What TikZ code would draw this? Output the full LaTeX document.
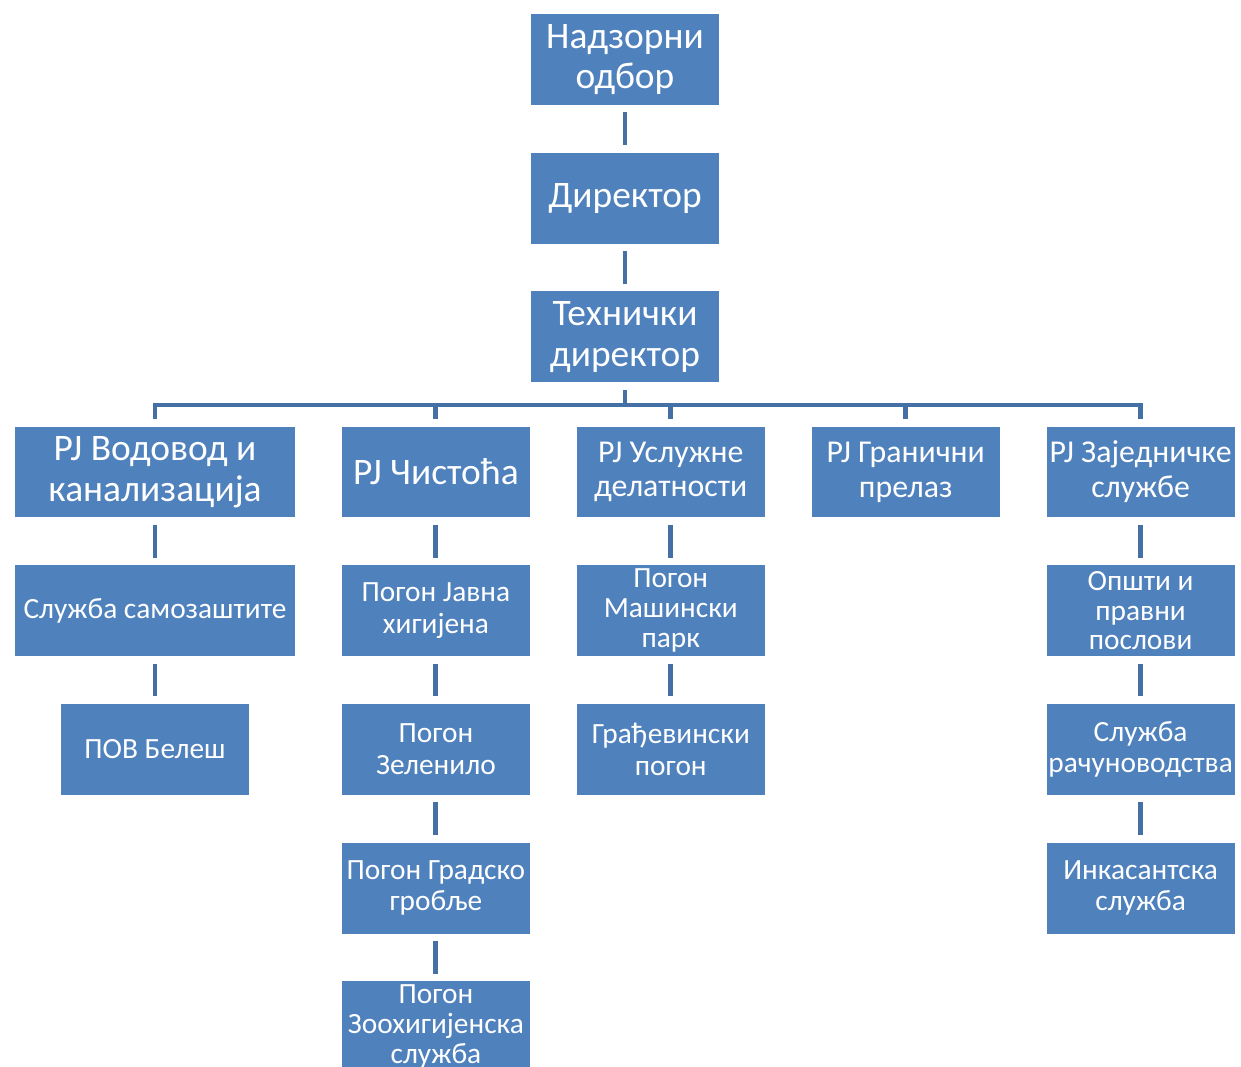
\documentclass[tikz,border=0pt]{standalone}
\usepackage{fontspec}
\setmainfont{Carlito}
\usetikzlibrary{positioning}
\definecolor{boxblue}{RGB}{79,129,189}
\definecolor{linkblue}{RGB}{68,112,166}

\begin{document}
\begin{tikzpicture}[
    x=0.02cm, y=-0.02cm,
    node distance=0.94cm and 0.925cm,
    box/.style={rectangle, fill=boxblue, text=white, minimum width=3.76cm, minimum height=1.82cm, inner sep=1pt, align=center, font=\fontsize{16.7}{18.1}\selectfont},
    widebox/.style={box, minimum width=5.6cm},
    big/.style={font=\fontsize{21.3}{23.2}\selectfont},
    mid/.style={font=\fontsize{18.1}{19.8}\selectfont},
    tri/.style={font=\fontsize{16.7}{17}\selectfont, inner ysep=0pt},
    link/.style={draw=linkblue, line width=2.8pt, line join=miter, shorten <=4pt, shorten >=4pt}
]
\useasboundingbox (0,0) rectangle (1241,1067);

% management
\node[box, big] (board) at (625,59.5) {Надзорни\\одбор};
\node[box, big, below=of board] (dir) {Директор};
\node[box, big, below=of dir] (tech) {Технички\\директор};

% units
\node[widebox, big] (vod) at (155,472) {PJ Водовод и\\канализација};
\node[box, big, right=of vod] (chi) {PJ Чистоћа};
\node[box, mid, right=of chi] (usl) {PJ Услужне\\делатности};
\node[box, mid, right=of usl] (gra) {PJ Гранични\\прелаз};
\node[box, mid, right=of gra] (zaj) {PJ Заједничке\\службе};

% sections
\node[widebox, below=of vod] (samo) {Служба самозаштите};
\node[box, below=of samo] (bel) {ПОВ Белеш};
\node[box, below=of chi] (hig) {Погон Јавна\\хигијена};
\node[box, below=of hig] (zel) {Погон\\Зеленило};
\node[box, below=of zel] (grob) {Погон Градско\\гробље};
\node[box, tri, below=of grob] (zoo) {Погон\\Зоохигијенска\\служба};
\node[box, tri, below=of usl] (mas) {Погон\\Машински\\парк};
\node[box, below=of mas] (gradj) {Грађевински\\погон};
\node[box, tri, below=of zaj] (opst) {Општи и\\правни\\послови};
\node[box, below=of opst] (rac) {Служба\\рачуноводства};
\node[box, below=of rac] (ink) {Инкасантска\\служба};

% connectors
\coordinate (bus) at (625,405);
\draw[link] (board) -- (dir);
\draw[link] (dir) -- (tech);
\draw[link, shorten >=0pt] (tech) -- (tech.south |- bus);
\draw[link] (vod) |- (bus) -| (zaj);
\foreach \n in {chi,usl,gra}
    \draw[link, shorten <=0pt] (\n.north |- bus) -- (\n);
\foreach \a/\b in {vod/samo, samo/bel, chi/hig, hig/zel, zel/grob, grob/zoo, usl/mas, mas/gradj, zaj/opst, opst/rac, rac/ink}
    \draw[link] (\a) -- (\b);

\end{tikzpicture}
\end{document}
